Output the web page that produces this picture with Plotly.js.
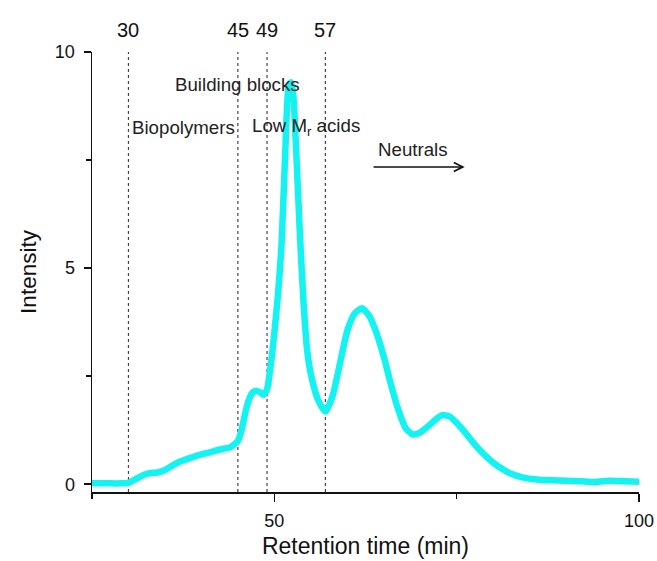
<!DOCTYPE html>
<html>
<head>
<meta charset="utf-8">
<script src="https://cdn.plot.ly/plotly-3.0.1.min.js"></script>
<style>html,body{margin:0;padding:0;background:#fff}#chart{width:657px;height:561px}</style>
</head>
<body>
<div id="chart"></div>
<script>
// Retention time (min)
var retentionTime = [25, 27, 29, 30, 31, 32, 33, 34, 35, 36, 37, 38, 39, 40, 41, 42, 43, 44, 45, 45.5, 46, 46.5, 47, 47.5, 48, 48.5, 49, 49.5, 50, 50.5, 51, 51.5, 52, 52.3, 52.6, 53, 53.5, 54, 54.5, 55, 56, 57, 58, 59, 60, 61, 62, 63, 64, 65, 66, 67, 68, 69, 70, 71, 72, 73, 74, 75, 76, 77, 78, 79, 80, 81, 82, 83, 84, 86, 88, 90, 92, 94, 95, 96, 98, 100];
// Intensity
var intensity = [0.02, 0.02, 0.02, 0.03, 0.12, 0.21, 0.26, 0.27, 0.33, 0.43, 0.52, 0.58, 0.64, 0.69, 0.73, 0.78, 0.82, 0.86, 1.0, 1.25, 1.64, 1.95, 2.12, 2.16, 2.13, 2.07, 2.2, 2.75, 3.5, 4.4, 5.6, 7.7, 9.25, 9.3, 9.0, 7.7, 5.8, 4.2, 3.1, 2.55, 1.95, 1.68, 2.05, 2.8, 3.55, 3.95, 4.07, 3.9, 3.5, 2.95, 2.3, 1.72, 1.3, 1.15, 1.2, 1.33, 1.48, 1.6, 1.57, 1.42, 1.23, 1.02, 0.82, 0.65, 0.5, 0.38, 0.28, 0.21, 0.16, 0.11, 0.09, 0.08, 0.07, 0.05, 0.07, 0.08, 0.07, 0.06];

// Fraction boundaries (min)
var boundaries = [30, 45, 49, 57];
var boundaryLabels = ['30', '45', '49', '57'];

// Fraction labels
var fractionNames = ['Building blocks', 'Biopolymers', 'Low M<sub>r</sub> acids', 'Neutrals'];
var fractionX = [45, 37.5, 54.3, 69.0];
var fractionY = [9.24, 8.26, 8.26, 7.75];

// Neutrals arrow (start, end) in min, at intensity
var arrowX = [63.4, 76.1];
var arrowY = 7.34;

var FONT = 'Liberation Sans, Arial, sans-serif';

var shapes = boundaries.map(function (b) {
  return {
    type: 'line', xref: 'x', yref: 'paper', x0: b, x1: b, y0: 0, y1: 1,
    line: {color: '#444444', width: 1.2, dash: 'dot'}, layer: 'below'
  };
});

var annotations = [];
boundaries.forEach(function (b, i) {
  annotations.push({
    x: b, xref: 'x', y: 1.05, yref: 'paper', text: boundaryLabels[i],
    showarrow: false, xanchor: 'center', yanchor: 'middle',
    font: {family: FONT, size: 20, color: '#111'}
  });
});
fractionNames.forEach(function (n, i) {
  annotations.push({
    x: fractionX[i], xref: 'x', y: fractionY[i], yref: 'y', text: n,
    showarrow: false, xanchor: 'center', yanchor: 'middle',
    font: {family: FONT, size: 18.7, color: '#222'}
  });
});
annotations.push({
  x: arrowX[1], y: arrowY, xref: 'x', yref: 'y',
  ax: arrowX[0], ay: arrowY, axref: 'x', ayref: 'y',
  text: '', showarrow: true, arrowhead: 5, arrowsize: 1.1, arrowwidth: 1.6,
  arrowcolor: '#111', standoff: 0, startstandoff: 0
});

var trace = {
  x: retentionTime, y: intensity, type: 'scatter', mode: 'lines',
  line: {color: '#14f2f2', width: 6.5, shape: 'spline', smoothing: 0.6},
  hoverinfo: 'skip'
};

var layout = {
  width: 657, height: 561,
  margin: {l: 92, r: 18, t: 52, b: 69, pad: 0},
  paper_bgcolor: '#ffffff', plot_bgcolor: '#ffffff',
  showlegend: false,
  font: {family: FONT, color: '#111'},
  xaxis: {
    range: [25, 100], showgrid: false, zeroline: false,
    showline: true, linecolor: '#111', linewidth: 1.5,
    tickmode: 'array', tickvals: [50, 100], ticktext: ['50', '100'],
    ticks: 'outside', ticklen: 8, tickwidth: 1.5, tickcolor: '#111',
    ticklabelstandoff: 4,
    minor: {tickmode: 'array', tickvals: [25, 75], ticks: 'outside', ticklen: 5, tickwidth: 1.5, tickcolor: '#111'},
    tickfont: {family: FONT, size: 18, color: '#111'},
    title: {text: 'Retention time (min)', font: {family: FONT, size: 23, color: '#111'}, standoff: 8}
  },
  yaxis: {
    range: [-0.18, 10], showgrid: false, zeroline: false,
    showline: true, linecolor: '#111', linewidth: 1.5,
    tickmode: 'array', tickvals: [0, 5, 10], ticktext: ['0', '5', '10'],
    ticks: 'outside', ticklen: 7, tickwidth: 1.5, tickcolor: '#111',
    ticklabelstandoff: 5,
    minor: {tickmode: 'array', tickvals: [2.5, 7.5], ticks: 'outside', ticklen: 5, tickwidth: 1.5, tickcolor: '#111'},
    tickfont: {family: FONT, size: 18, color: '#111'},
    title: {text: 'Intensity', font: {family: FONT, size: 22.5, color: '#111'}, standoff: 12}
  },
  shapes: shapes,
  annotations: annotations
};

Plotly.newPlot('chart', [trace], layout, {displayModeBar: false, staticPlot: true});
</script>
</body>
</html>
